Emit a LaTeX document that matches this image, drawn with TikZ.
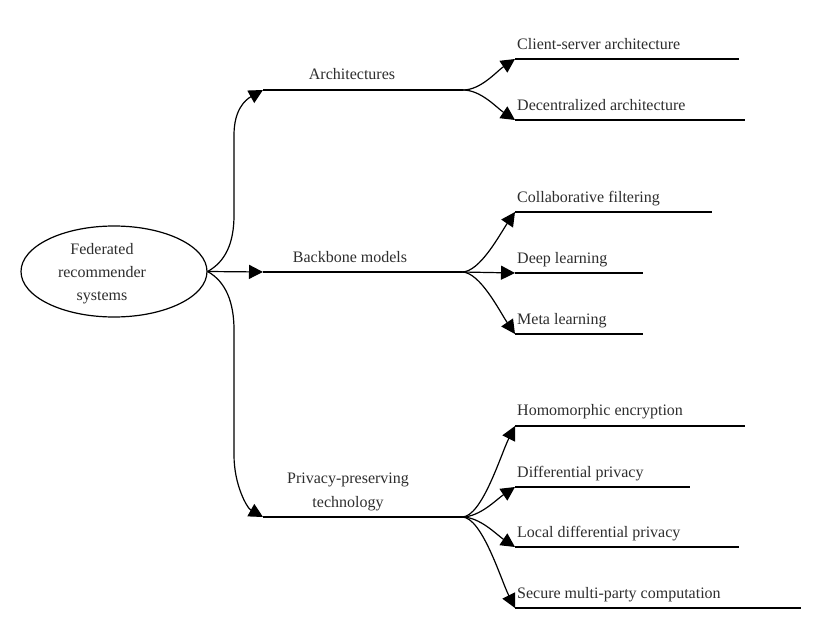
\documentclass[tikz,border=0pt]{standalone}
\usepackage{fontspec}
\setmainfont{Liberation Serif}
\usetikzlibrary{arrows.meta,shapes.geometric}
\begin{document}
\begin{tikzpicture}[x=1pt,y=-1pt,
  txt/.style={font=\fontsize{16}{23}\selectfont, text=black!82, inner sep=0pt},
  lbl/.style={txt, anchor=base west},
  hline/.style={line width=1.8pt},
  conn/.style={line width=1.2pt, -{Triangle[length=14pt,width=14pt]}},
]
\useasboundingbox[fill=white] (0,0) rectangle (840,626);
% root
\node[draw, ellipse, line width=1.2pt, minimum width=186pt, minimum height=91pt, inner sep=0pt] (root) at (114,271.5) {};
\node[txt, align=center] (roottext) at (102,274) {Federated\\recommender\\systems};
% level-1 coordinates
\coordinate (a1) at (263,90);  \coordinate (b1) at (463,90);
\coordinate (a2) at (263,272); \coordinate (b2) at (462,272);
\coordinate (a3) at (263,517); \coordinate (b3) at (462,517);
\draw[conn] (root.east) .. controls +(18,-10) and +(0,28) .. (234,215) -- (234,135)
  .. controls +(0,-25) and +(-18,10) .. (a1);
\draw[conn] (root.east) -- (a2);
\draw[conn] (root.east) .. controls +(18,10) and +(0,-28) .. (234,330) -- (234,455)
  .. controls +(0,30) and +(-16,-9) .. (a3);
\draw[hline] (a1) -- (b1);
\draw[hline] (a2) -- (b2);
\draw[hline] (a3) -- (b3);
\node[txt, anchor=base] (l1) at (352,79) {Architectures};
\node[txt, anchor=base] (l2) at (350,262) {Backbone models};
\node[txt, anchor=base, align=center] (l3) at (348,507) {Privacy-preserving\\[1pt]technology};
% level-2 coordinates
\coordinate (c11) at (515,59);  \coordinate (e11) at (739,59);
\coordinate (c12) at (515,120); \coordinate (e12) at (745,120);
\coordinate (c21) at (515,212); \coordinate (e21) at (712,212);
\coordinate (c22) at (515,273); \coordinate (e22) at (643,273);
\coordinate (c23) at (515,334); \coordinate (e23) at (643,334);
\coordinate (c31) at (515,426); \coordinate (e31) at (745,426);
\coordinate (c32) at (515,487); \coordinate (e32) at (690,487);
\coordinate (c33) at (515,547); \coordinate (e33) at (739,547);
\coordinate (c34) at (515,608); \coordinate (e34) at (801,608);
% level-2 connectors
\draw[conn] (b1) .. controls +(18,0) and +(-18,12) .. (c11);
\draw[conn] (b1) .. controls +(18,0) and +(-18,-12) .. (c12);
\draw[conn] (b2) .. controls +(18,0) and +(-15,22) .. (c21);
\draw[conn] (b2) -- (c22);
\draw[conn] (b2) .. controls +(18,0) and +(-15,-22) .. (c23);
\draw[conn] (b3) .. controls +(20,0) and +(-14,28) .. (c31);
\draw[conn] (b3) .. controls +(18,0) and +(-18,12) .. (c32);
\draw[conn] (b3) .. controls +(18,0) and +(-18,-12) .. (c33);
\draw[conn] (b3) .. controls +(20,0) and +(-14,-28) .. (c34);
% level-2 lines
\foreach \i in {11,12,21,22,23,31,32,33,34}{\draw[hline] (c\i) -- (e\i);}
% level-2 labels
\node[lbl] (t11) at (517,49)  {Client-server architecture};
\node[lbl] (t12) at (517,110) {Decentralized architecture};
\node[lbl] (t21) at (517,202) {Collaborative filtering};
\node[lbl] (t22) at (517,263) {Deep learning};
\node[lbl] (t23) at (517,324) {Meta learning};
\node[lbl] (t31) at (517,415) {Homomorphic encryption};
\node[lbl] (t32) at (517,477) {Differential privacy};
\node[lbl] (t33) at (517,537) {Local differential privacy};
\node[lbl] (t34) at (517,598) {Secure multi-party computation};
\end{tikzpicture}
\end{document}
